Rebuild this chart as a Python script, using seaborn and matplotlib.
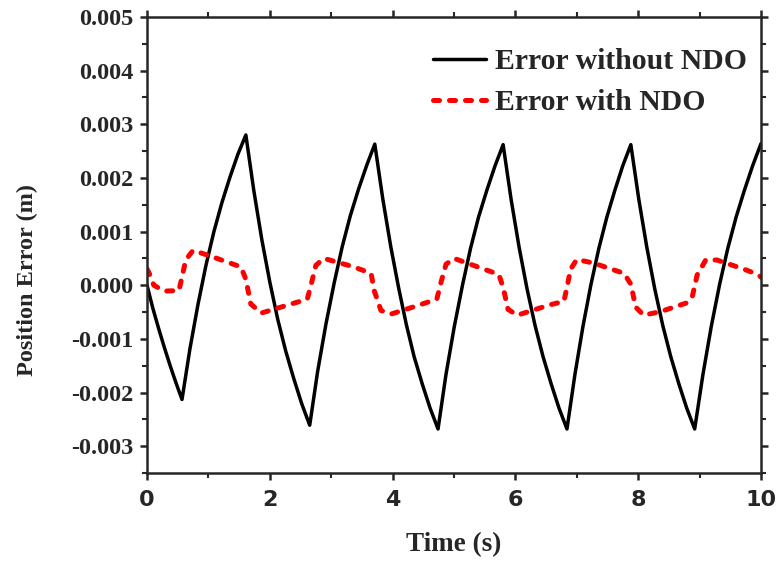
import numpy as np
import pandas as pd
import matplotlib
matplotlib.use("Agg")
import matplotlib.pyplot as plt
import seaborn as sns
from matplotlib.ticker import MultipleLocator, FormatStrFormatter

# Error without NDO (black)
t_without = [0.0, 0.095, 0.19, 0.285, 0.38, 0.475, 0.57,
             0.70, 0.83, 0.96, 1.09, 1.22, 1.35, 1.48, 1.61,
             1.74, 1.87, 2.00, 2.13, 2.26, 2.39, 2.52, 2.65,
             2.78, 2.915, 3.05, 3.18, 3.31, 3.445, 3.58, 3.71,
             3.84, 3.97, 4.10, 4.225, 4.35, 4.48, 4.61, 4.74,
             4.87, 5.005, 5.14, 5.27, 5.40, 5.535, 5.67, 5.80,
             5.93, 6.06, 6.19, 6.32, 6.45, 6.58, 6.71, 6.84,
             6.97, 7.10, 7.23, 7.36, 7.49, 7.62, 7.75, 7.88,
             8.01, 8.14, 8.27, 8.40, 8.53, 8.66, 8.79, 8.92,
             9.055, 9.19, 9.325, 9.46, 9.595, 9.73, 9.865, 10.0]
e_without = [0.0, -0.00043, -0.00081, -0.00117, -0.00151, -0.00183, -0.00213,
             -0.00118, -0.00036, 0.00037, 0.00100, 0.00154, 0.00201, 0.00244, 0.00280,
             0.00176, 0.00085, 0.00006, -0.00064, -0.00123, -0.00174, -0.00221, -0.00261,
             -0.00160, -0.00072, 0.00005, 0.00072, 0.00129, 0.00179, 0.00224, 0.00263,
             0.00161, 0.00072, -0.00006, -0.00074, -0.00133, -0.00183, -0.00229, -0.00268,
             -0.00166, -0.00077, 0.00001, 0.00069, 0.00127, 0.00177, 0.00223, 0.00262,
             0.00160, 0.00071, -0.00007, -0.00075, -0.00133, -0.00183, -0.00229, -0.00268,
             -0.00166, -0.00077, 0.00001, 0.00069, 0.00127, 0.00177, 0.00223, 0.00262,
             0.00160, 0.00071, -0.00007, -0.00075, -0.00133, -0.00183, -0.00229, -0.00268,
             -0.00166, -0.00077, 0.00001, 0.00069, 0.00127, 0.00177, 0.00223, 0.00264]

# Error with NDO (red dashed)
t_with = [0.0, 0.03, 0.11, 0.28, 0.52, 0.57, 0.63, 0.75, 1.04, 1.53,
          1.61, 1.69, 1.86, 2.12, 2.61, 2.67, 2.75, 2.88, 3.37, 3.65,
          3.70, 3.81, 3.97, 4.38, 4.72, 4.79, 4.87, 5.00, 5.73, 5.80,
          5.88, 6.03, 6.55, 6.79, 6.84, 6.90, 7.00, 7.28, 7.77, 7.88,
          7.96, 8.09, 8.37, 8.79, 8.88, 8.96, 9.10, 9.28, 9.72, 9.95, 10.0]
e_with = [0.00030, 0.00024, 0.0, -0.00011, -0.00010, 0.00015, 0.00047, 0.00065, 0.00054, 0.00034,
          0.00011, -0.00035, -0.00052, -0.00043, -0.00026, 0.0, 0.00037, 0.00050, 0.00034, 0.00022,
          -0.00010, -0.00047, -0.00054, -0.00039, -0.00026, 0.00006, 0.00039, 0.00050, 0.00020, -0.00004,
          -0.00045, -0.00056, -0.00037, -0.00030, -0.00004, 0.00030, 0.00048, 0.00041, 0.00022, 0.00002,
          -0.00041, -0.00056, -0.00049, -0.00033, -0.00022, 0.00019, 0.00047, 0.00047, 0.00030, 0.00020, 0.00015]

sns.set_style("ticks")
plt.rcParams['font.family'] = ['Liberation Serif', 'DejaVu Serif']
plt.rcParams['font.weight'] = 'bold'

fig = plt.figure(figsize=(7.77, 5.63), dpi=100)
ax = fig.add_axes([0.1892, 0.1599, 0.7902, 0.81])

dash = (0, (1.2, 2.0))
sns.lineplot(x=t_without, y=e_without, ax=ax, color='black', lw=2.5,
             label='Error without NDO', sort=False, estimator=None)
sns.lineplot(x=t_with, y=e_with, ax=ax, color='#ff0000', lw=3.6,
             label='Error with NDO', sort=False, estimator=None)
ax.lines[1].set_linestyle(dash)
ax.lines[1].set_dash_capstyle('round')

ax.set_xlim(0, 10)
ax.set_ylim(-0.0035, 0.005)
ax.xaxis.set_major_locator(MultipleLocator(2))
ax.xaxis.set_minor_locator(MultipleLocator(1))
ax.yaxis.set_major_locator(MultipleLocator(0.001))
ax.yaxis.set_minor_locator(MultipleLocator(0.0005))
ax.yaxis.set_major_formatter(FormatStrFormatter('%.3f'))

for s in ax.spines.values():
    s.set_linewidth(1.8)
ax.tick_params(which='major', direction='out', length=5, width=1.8,
               top=True, right=True)
ax.tick_params(which='minor', direction='out', length=3.5, width=1.5,
               top=True, right=True)
ax.tick_params(axis='y', labelsize=17.5, pad=5)
ax.tick_params(axis='x', labelsize=16, pad=7)
for lab in ax.get_xticklabels():
    lab.set_fontfamily('DejaVu Sans')
    lab.set_fontweight('bold')
for lab in ax.get_yticklabels():
    lab.set_fontweight('bold')

ax.set_xlabel('Time (s)', fontsize=19.5, fontweight='bold')
ax.set_ylabel('Position Error (m)', fontsize=17.5, fontweight='bold')
ax.xaxis.set_label_coords(0.5, -0.130)
ax.yaxis.set_label_coords(-0.178, 0.423)

leg = ax.legend(loc='upper right', bbox_to_anchor=(0.997, 0.958), frameon=False,
                handlelength=1.8, handletextpad=0.3, borderaxespad=0.0,
                labelspacing=0.48, prop={'weight': 'bold', 'size': 21.4})
leg.get_lines()[1].set_linestyle(dash)
leg.get_lines()[1].set_dash_capstyle('round')

plt.savefig("out.png", dpi=100)
